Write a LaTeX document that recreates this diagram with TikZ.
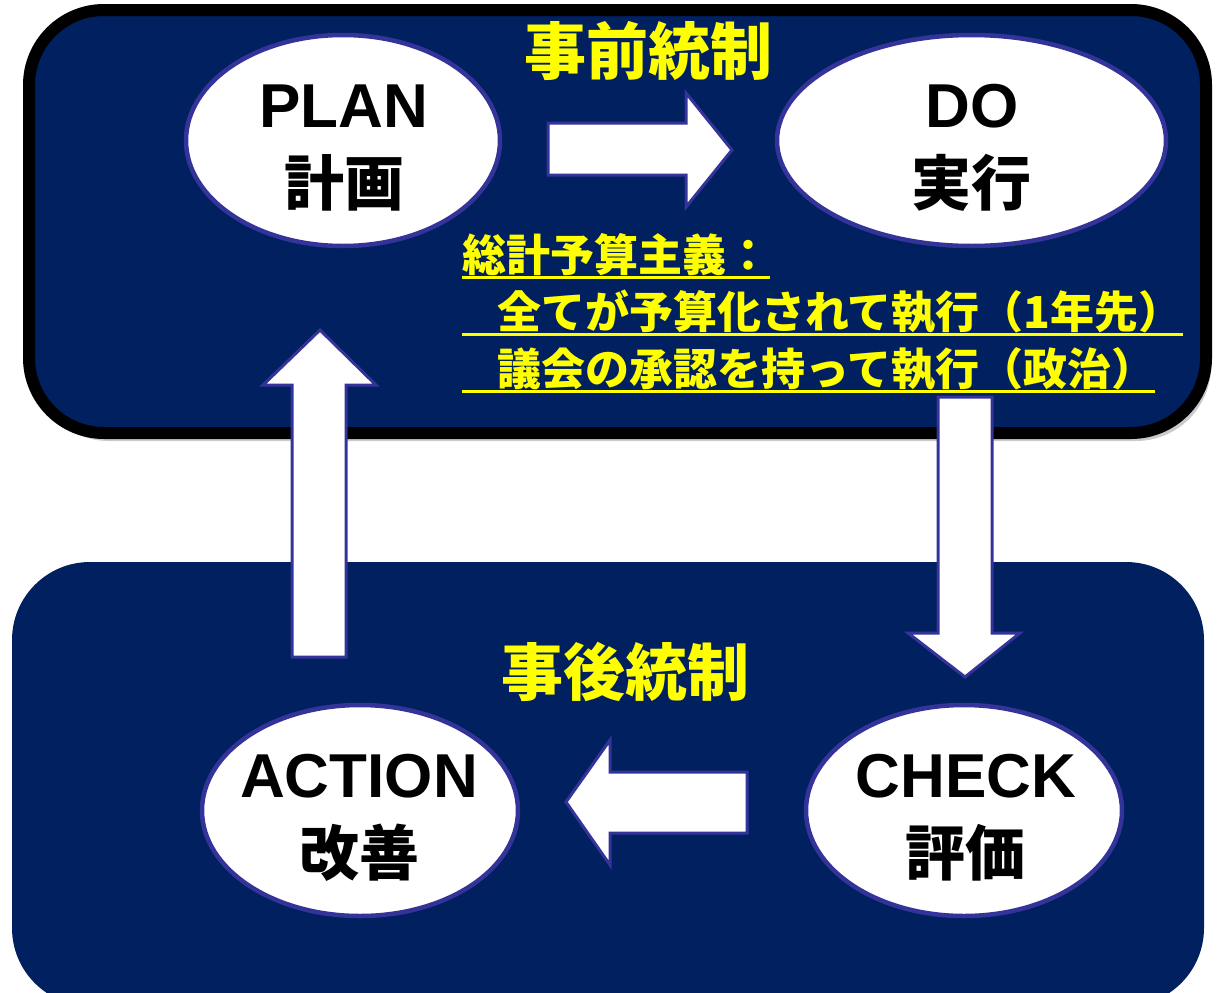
\documentclass[tikz,border=0pt]{standalone}
\usepackage{fontspec}
\setmainfont{Liberation Sans}
\newfontfamily\cjk{Noto Sans CJK JP}
\usetikzlibrary{shapes.geometric}
\definecolor{navy}{RGB}{0,32,96}
\definecolor{rim}{RGB}{51,51,153}
\definecolor{ylw}{RGB}{255,255,0}
\tikzset{
  ell/.style={ellipse, draw=rim, line width=4.5pt, fill=white, inner sep=0pt},
  blockarrow/.style={fill=white, draw=rim, line width=3pt, line join=miter},
  lat/.style={font=\fontsize{62pt}{70pt}\selectfont\bfseries, text=black, inner sep=0pt, anchor=base},
  jp/.style={font=\cjk\fontsize{60pt}{70pt}\selectfont\bfseries, text=black, inner sep=0pt, anchor=base},
  ttl/.style={font=\cjk\fontsize{62pt}{70pt}\selectfont\bfseries, text=ylw, inner sep=0pt},
  ytxt/.style={font=\cjk\fontsize{44pt}{50pt}\selectfont\bfseries, text=ylw, inner sep=0pt, anchor=base west},
  uline/.style={draw=ylw, line width=3pt}
}
\begin{document}
\begin{tikzpicture}[x=1pt,y=-1pt]
\useasboundingbox (0,0) rectangle (1218,993);
\clip (0,0) rectangle (1218,993);
\fill[white] (0,0) rectangle (1218,993);
% top box: shadow and frame
\fill[black!40, opacity=0.5, rounded corners=75pt] (34,17) rectangle (1211,441);
\draw[line width=12pt, fill=navy, rounded corners=75pt] (29,10) rectangle (1206,433);
% bottom box
\fill[navy, rounded corners=78pt] (12,562) rectangle (1204,1006);
% block arrows
\draw[blockarrow] (548,123) -- (686,123) -- (686,93) -- (732,150) -- (686,207) -- (686,175) -- (548,175) -- cycle;
\draw[blockarrow] (292,657) -- (292,385) -- (263,385) -- (320,330) -- (376,385) -- (346,385) -- (346,657) -- cycle;
\draw[blockarrow] (938,397) -- (992,397) -- (992,633) -- (1020,633) -- (965,677) -- (908,633) -- (938,633) -- cycle;
\draw[blockarrow] (747,772) -- (610,772) -- (610,740) -- (566,802) -- (610,865) -- (610,833) -- (747,833) -- cycle;
% ellipses
\node[ell, minimum width=314pt, minimum height=211pt] (plan) at (343,140.5) {};
\node[ell, minimum width=389pt, minimum height=211pt] (do) at (971.5,140.5) {};
\node[ell, minimum width=316pt, minimum height=211pt] (action) at (360,810.5) {};
\node[ell, minimum width=316pt, minimum height=211pt] (check) at (964,810.5) {};
% ellipse texts
\node[lat] (planA) at (344,127) {PLAN};
\node[jp] (planB) at (344,205) {計画};
\node[lat] (doA) at (972,127) {DO};
\node[jp] (doB) at (971,205) {実行};
\node[lat] (actionA) at (359,797) {ACTION};
\node[jp] (actionB) at (359,875) {改善};
\node[lat] (checkA) at (966,797) {CHECK};
\node[jp] (checkB) at (965,875) {評価};
% titles
\node[ttl] (pre) at (648,51) {事前統制};
\node[ttl] (post) at (625,672) {事後統制};
% yellow underlined text
\node[ytxt] (l1) at (462,271) {総計予算主義：};
\node[ytxt] (l2) at (462,328) {\hspace*{35pt}全てが予算化されて執行（1年先）};
\node[ytxt] (l3) at (462,385) {\hspace*{35pt}議会の承認を持って執行（政治）};
\draw[uline] ([yshift=-6pt]l1.base west) -- ([yshift=-6pt]l1.base east);
\draw[uline] ([yshift=-6pt]l2.base west) -- ([yshift=-6pt]l2.base east);
\draw[uline] ([yshift=-6pt]l3.base west) -- ([yshift=-6pt]l3.base east);
\end{tikzpicture}
\end{document}
